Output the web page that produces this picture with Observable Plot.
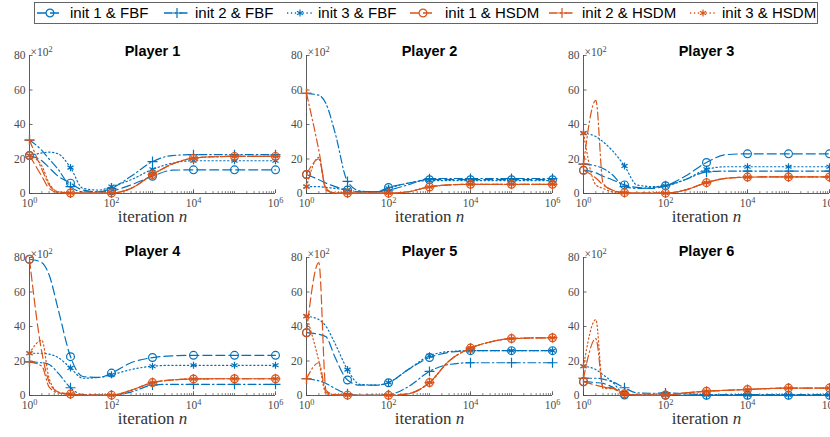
<!DOCTYPE html>
<html><head><meta charset="utf-8">
<script src="https://cdn.jsdelivr.net/npm/d3@7"></script>
<script src="https://cdn.jsdelivr.net/npm/@observablehq/plot@0.6"></script>
<style>
body{margin:0;background:#fff;}
#wrap{position:relative;width:830px;height:437px;overflow:hidden;background:#fff;}
#wrap > svg, #wrap > figure{position:absolute;margin:0;}
</style></head><body><div id="wrap"></div>
<script>
// iteration numbers at which values are read
const iters = [1, 2, 3, 5, 10, 20, 50, 100, 300, 1000, 3000, 1e4, 3e4, 1e5, 1e6];
const players = ["Player 1", "Player 2", "Player 3", "Player 4", "Player 5", "Player 6"];
const seriesNames = ["init 1 & FBF", "init 2 & FBF", "init 3 & FBF", "init 1 & HSDM", "init 2 & HSDM", "init 3 & HSDM"];
const yTicks = [0, 20, 40, 60, 80];
const xTicks = [1, 1e2, 1e4, 1e6];
const xTickExps = ["0", "2", "4", "6"];
const yScaleNote = ["×10", "2"];

// values in units of 10^2
const p1_fbf1 = [22, 19, 15, 10, 6, 2, 1, 1.5, 5, 10, 13.5, 13.7, 13.7, 13.7, 13.7];
const p1_fbf2 = [31, 25, 20, 14, 4, 1, 1, 3, 10, 18.5, 22, 22.5, 22.5, 22.5, 22.5];
const p1_fbf3 = [22, 23.5, 24, 23, 15, 3, 2, 4, 8, 14, 17.5, 19, 19, 19, 19];
const p1_hsdm1 = [22, 10, 3, 0.5, 0.3, 0.2, 0.2, 0.3, 3, 11, 17, 20.5, 21.3, 21.5, 21.5];
const p1_hsdm2 = [31, 14, 5, 1, 0.3, 0.2, 0.2, 0.3, 3, 11, 17, 20.5, 21.3, 21.5, 21.5];
const p1_hsdm3 = [22, 16, 6, 1, 0.3, 0.2, 0.2, 0.3, 3, 11, 17, 20.5, 21.3, 21.5, 21.5];

const p2_fbf1 = [11, 8, 6, 4, 2, 1, 1, 3.5, 6, 8, 8, 8, 8, 8, 8];
const p2_fbf2 = [58, 57, 52, 35, 7, 1.5, 1, 2, 5, 8.6, 8.7, 8.7, 8.7, 8.7, 8.7];
const p2_fbf3 = [4, 4, 3.5, 3, 2, 1, 1, 3, 6, 7.5, 7.5, 7.5, 7.5, 7.5, 7.5];
const p2_hsdm1 = [11, 20, 2, 0.3, 0.3, 0.2, 0.2, 0.2, 1, 3.8, 5, 5.3, 5.3, 5.3, 5.3];
const p2_hsdm2 = [58, 25, 3, 0.3, 0.3, 0.2, 0.2, 0.2, 1, 3.8, 5, 5.3, 5.3, 5.3, 5.3];
const p2_hsdm3 = [4, 21, 2, 0.3, 0.3, 0.2, 0.2, 0.2, 1, 3.8, 5, 5.3, 5.3, 5.3, 5.3];

const p3_fbf1 = [13.5, 12, 10, 8, 5, 3.5, 3, 4.5, 10, 18, 22.5, 23, 23, 23, 23];
const p3_fbf2 = [17, 16, 14.5, 11, 4, 3, 3.5, 4.5, 8, 12.5, 13, 13, 13, 13, 13];
const p3_fbf3 = [35, 33, 30, 25, 16, 5, 4, 4.5, 8, 14, 15.5, 15.5, 15.5, 15.5, 15.5];
const p3_hsdm1 = [13.5, 9, 5, 2, 0.5, 0.2, 0.2, 0.2, 2, 6.3, 8.8, 9.5, 9.6, 9.6, 9.6];
const p3_hsdm2 = [17, 54, 6, 2, 0.5, 0.2, 0.2, 0.2, 2, 6.3, 8.8, 9.5, 9.6, 9.6, 9.6];
const p3_hsdm3 = [35, 5, 3, 1, 0.5, 0.2, 0.2, 0.2, 2, 6.3, 8.8, 9.5, 9.6, 9.6, 9.6];

const p4_fbf1 = [79, 77, 70, 50, 22.5, 11, 10.5, 13, 19, 22, 23, 23.3, 23.3, 23.3, 23.3];
const p4_fbf2 = [19.5, 19, 18, 13, 4.5, 0.5, 0.3, 0.3, 2, 6, 6.5, 6.5, 6.5, 6.5, 6.5];
const p4_fbf3 = [24.5, 24.5, 24, 22, 16, 10, 10.5, 12, 15, 17, 17.5, 17.5, 17.5, 17.5, 17.5];
const p4_hsdm1 = [79, 25, 8, 2, 0.8, 0.3, 0.2, 0.2, 3, 7.5, 9, 9.6, 9.7, 9.7, 9.7];
const p4_hsdm2 = [19.5, 17, 5, 1.5, 0.8, 0.3, 0.2, 0.2, 3, 7.5, 9, 9.6, 9.7, 9.7, 9.7];
const p4_hsdm3 = [24.5, 32, 10, 2, 0.8, 0.3, 0.2, 0.2, 3, 7.5, 9, 9.6, 9.7, 9.7, 9.7];

const p5_fbf1 = [36.4, 35.5, 34, 22, 9, 6, 6, 7.4, 15, 22, 25, 26, 26, 26, 26];
const p5_fbf2 = [9.7, 8.5, 7, 4, 1, 0.2, 0.2, 0.5, 5, 14, 18, 19, 19, 19, 19];
const p5_fbf3 = [46, 44, 40, 30, 15, 6.5, 6, 7.5, 15, 23, 25.5, 26, 26, 26, 26];
const p5_hsdm1 = [36.4, 77, 3, 0.5, 0.2, 0.1, 0.1, 0.1, 1, 7.5, 20, 27.5, 31, 33, 33.5];
const p5_hsdm2 = [9.7, 19, 2, 0.3, 0.2, 0.1, 0.1, 0.1, 1, 7.5, 20, 27.5, 31, 33, 33.5];
const p5_hsdm3 = [46, 20, 1, 0.3, 0.2, 0.1, 0.1, 0.1, 1, 7.5, 20, 27.5, 31, 33, 33.5];

const p6_fbf1 = [8, 7.5, 7, 5, 0.3, 0.2, 0.1, 0.1, 0.1, 0.1, 0.1, 0.1, 0.1, 0.1, 0.1];
const p6_fbf2 = [10, 10, 9.5, 8, 4.5, 1.5, 1.3, 1.5, 1, 0.5, 0.5, 0.5, 0.5, 0.5, 0.5];
const p6_fbf3 = [17, 15, 12, 8, 1, 0.5, 0.3, 0.3, 0.3, 0.3, 0.3, 0.3, 0.3, 0.3, 0.3];
const p6_hsdm1 = [8, 6, 5, 4.5, 1, 0.3, 0.2, 0.3, 1.5, 2.5, 3, 3.5, 4, 4.3, 4.3];
const p6_hsdm2 = [10, 33, 5, 4, 1, 0.3, 0.2, 0.3, 1.5, 2.5, 3, 3.5, 4, 4.3, 4.3];
const p6_hsdm3 = [17, 44, 4, 4, 1, 0.3, 0.2, 0.3, 1.5, 2.5, 3, 3.5, 4, 4.3, 4.3];

const playerSeries = [
  [p1_fbf1, p1_fbf2, p1_fbf3, p1_hsdm1, p1_hsdm2, p1_hsdm3],
  [p2_fbf1, p2_fbf2, p2_fbf3, p2_hsdm1, p2_hsdm2, p2_hsdm3],
  [p3_fbf1, p3_fbf2, p3_fbf3, p3_hsdm1, p3_hsdm2, p3_hsdm3],
  [p4_fbf1, p4_fbf2, p4_fbf3, p4_hsdm1, p4_hsdm2, p4_hsdm3],
  [p5_fbf1, p5_fbf2, p5_fbf3, p5_hsdm1, p5_hsdm2, p5_hsdm3],
  [p6_fbf1, p6_fbf2, p6_fbf3, p6_hsdm1, p6_hsdm2, p6_hsdm3]
];

// styles
const BLUE = "#0072BD", ORANGE = "#D95319";
const colors = [BLUE, BLUE, BLUE, ORANGE, ORANGE, ORANGE];
const dashes = ["9,4", "8,3,1.5,3", "1.3,2.6", "9,4", "8,3,1.5,3", "1.3,2.6"];
const symbols = ["circle", "plus", "asterisk", "circle", "plus", "asterisk"];
const symR = [3.9, 3.3, 3.3, 3.9, 3.3, 3.3];
const d3symbols = [d3.symbolCircle, d3.symbolPlus, d3.symbolAsterisk, d3.symbolCircle, d3.symbolPlus, d3.symbolAsterisk];
const AX = "#4a4a4a";
const SERIF = "'Liberation Serif', 'Times New Roman', serif";
const SANS = "'Liberation Sans', Arial, Helvetica, sans-serif";

// minor ticks on log axis
const xMinor = [];
for (let k = 0; k < 6; k++) for (let m = 1; m < 10; m++) xMinor.push(m * Math.pow(10, k));
xMinor.push(1e6);
const isDecade = n => Math.abs(Math.log10(n) - Math.round(Math.log10(n))) < 1e-9;

function supify(el, base, sup) {
  const t = d3.select(el);
  t.text(null);
  t.append("tspan").text(base);
  t.append("tspan").attr("dy", "-0.5em").attr("font-size", "0.72em").text(sup);
}

const wrap = document.getElementById("wrap");
const lefts = [0, 277, 554];
const tops = [30, 230];
const mTops = [25, 27];

players.forEach((title, pi) => {
  const row = Math.floor(pi / 3), col = pi % 3;
  const series = playerSeries[pi];
  const marks = [
    Plot.ruleX(xMinor, {y1: 0, y2: 1.1, stroke: AX, strokeWidth: 0.7}),
    Plot.ruleX(xTicks, {y1: 0, y2: 2.2, stroke: AX, strokeWidth: 0.8}),
    Plot.ruleY(yTicks, {x1: 1, x2: 1.22, stroke: AX, strokeWidth: 0.8}),
    Plot.ruleX([1], {stroke: AX, strokeWidth: 0.9}),
    Plot.ruleY([0], {stroke: AX, strokeWidth: 0.9}),
    Plot.axisX({ticks: xTicks, tickSize: 0, tickPadding: 5, tickFormat: d => "10^" + xTickExps[xTicks.indexOf(d)], label: null, fontSize: 11.5, fill: AX}),
    Plot.axisY({ticks: yTicks, tickSize: 0, tickPadding: 4, label: null, fontSize: 11.5, fill: AX}),
    Plot.text([yScaleNote.join("^")], {text: d => d, frameAnchor: "top-left", dx: 1, dy: -8, textAnchor: "start", fontSize: 11.5, fill: AX}),
    Plot.text([title], {text: d => d, frameAnchor: "top", dy: -10 - (row ? 2 : 0), fontWeight: "bold", fontSize: 14.5, fontFamily: SANS, fill: "#000"}),
    Plot.text(["iteration n"], {text: d => d, frameAnchor: "bottom", dy: 28, fontSize: 17, fill: "#333"})
  ];
  series.forEach((vals, si) => {
    const rows = vals.map((v, i) => ({n: iters[i], v}));
    marks.push(Plot.line(rows, {x: "n", y: "v", stroke: colors[si], strokeWidth: 1.2, strokeDasharray: dashes[si], curve: "monotone-x"}));
    marks.push(Plot.dot(rows.filter(d => isDecade(d.n)), {x: "n", y: "v", symbol: symbols[si], r: symR[si], stroke: colors[si], fill: "none", strokeWidth: 1.2}));
  });
  const svg = Plot.plot({
    width: 277,
    height: mTops[row] + 138 + 37,
    marginLeft: 29, marginRight: 2, marginTop: mTops[row], marginBottom: 37,
    x: {type: "log", domain: [1, 1e6]},
    y: {domain: [0, 80]},
    style: {fontFamily: SERIF, fontSize: "11.5px", background: "transparent", overflow: "visible"},
    marks
  });
  svg.style.left = lefts[col] + "px";
  svg.style.top = tops[row] + "px";
  d3.select(svg).selectAll("text").each(function() {
    const s = this.textContent;
    if (s === "iteration n") {
      d3.select(this).text(null);
      d3.select(this).append("tspan").text("iteration ");
      d3.select(this).append("tspan").attr("font-style", "italic").text("n");
    } else if (s.includes("^")) {
      const [b, e] = s.split("^");
      supify(this, b, e);
    }
  });
  wrap.appendChild(svg);
});

// legend
const legendItems = [
  {c: 50, tx: 70}, {c: 177, tx: 195}, {c: 300, tx: 318},
  {c: 423, tx: 445}, {c: 562, tx: 582}, {c: 703, tx: 722}
];
const lg = d3.create("svg").attr("width", 830).attr("height", 28).style("left", "0px").style("top", "0px");
lg.append("rect").attr("x", 34.5).attr("y", 2.5).attr("width", 783).attr("height", 21)
  .attr("fill", "#fff").attr("stroke", "#555").attr("stroke-width", 0.9);
seriesNames.forEach((name, i) => {
  const it = legendItems[i];
  lg.append("line").attr("x1", it.c - 13).attr("x2", it.c + 13).attr("y1", 13).attr("y2", 13)
    .attr("stroke", colors[i]).attr("stroke-width", 1.3).attr("stroke-dasharray", dashes[i]);
  lg.append("path").attr("d", d3.symbol(d3symbols[i], symR[i] * symR[i] * Math.PI)()).attr("transform", `translate(${it.c},13)`)
    .attr("fill", "none").attr("stroke", colors[i]).attr("stroke-width", 1.2);
  lg.append("text").attr("x", it.tx).attr("y", 13).attr("dy", "0.35em")
    .attr("font-family", SANS).attr("font-size", 15).attr("fill", "#000").text(name);
});
wrap.appendChild(lg.node());
</script>
</body></html>
